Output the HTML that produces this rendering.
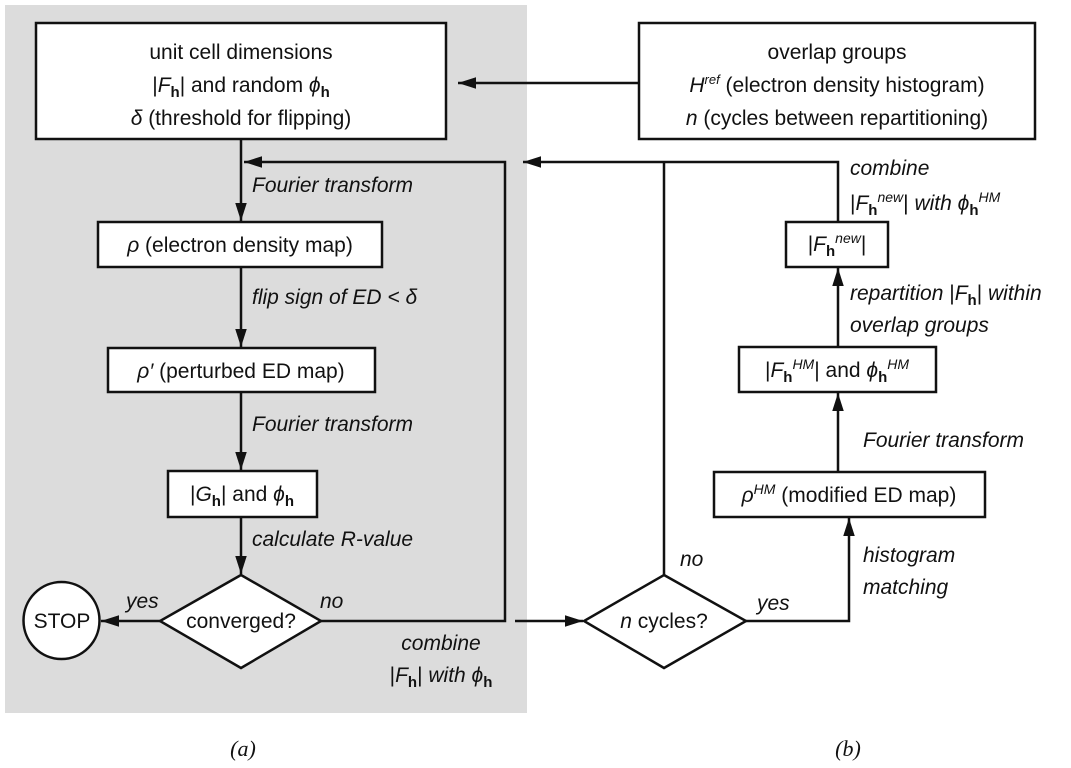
<!DOCTYPE html>
<html><head><meta charset="utf-8"><style>
body{margin:0;background:#fff}
svg{display:block}
text{font-family:"Liberation Sans",sans-serif;font-size:21px;fill:#111}
.i{font-style:italic}
.b{font-weight:bold}
</style></head><body>
<svg width="1071" height="768" viewBox="0 0 1071 768" xmlns="http://www.w3.org/2000/svg">
<defs>
<marker id="A" viewBox="0 0 10 10" refX="10" refY="5" markerWidth="18" markerHeight="18" markerUnits="userSpaceOnUse" orient="auto"><path d="M0,1.8L10,5L0,8.2z" fill="#111"/></marker></defs>
<rect x="5" y="5" width="522" height="708" fill="#dcdcdc"/>
<g stroke="#111" stroke-width="2.5" fill="#fff">
<rect x="36" y="23" width="410" height="116"/>
<rect x="639" y="23" width="396" height="116"/>
<rect x="98" y="222" width="284" height="45"/>
<rect x="108" y="348" width="267" height="44"/>
<rect x="168" y="471" width="149" height="46"/>
<polygon points="241,575 321,621 241,668 160,621"/>
<ellipse cx="61.5" cy="620.5" rx="38" ry="38.5"/>
<rect x="786" y="222" width="102" height="45"/>
<rect x="739" y="347" width="197" height="45"/>
<rect x="714" y="472" width="271" height="45"/>
<polygon points="664,575 746,621 664,668 584,621"/>
</g>
<g stroke="#111" stroke-width="2.5" fill="none">
<line x1="639" y1="83" x2="458" y2="83" marker-end="url(#A)"/>
<line x1="241" y1="139" x2="241" y2="221" marker-end="url(#A)"/>
<polyline points="321,621 505,621 505,162 244,162" marker-end="url(#A)"/>
<line x1="241" y1="267" x2="241" y2="347" marker-end="url(#A)"/>
<line x1="241" y1="392" x2="241" y2="470" marker-end="url(#A)"/>
<line x1="241" y1="517" x2="241" y2="574" marker-end="url(#A)"/>
<line x1="160" y1="621" x2="101" y2="621" marker-end="url(#A)"/>
<line x1="515" y1="621" x2="583" y2="621" marker-end="url(#A)"/>
<line x1="664" y1="575" x2="664" y2="162"/>
<polyline points="838,222 838,162 523,162" marker-end="url(#A)"/>
<line x1="838" y1="347" x2="838" y2="268" marker-end="url(#A)"/>
<line x1="838" y1="472" x2="838" y2="393" marker-end="url(#A)"/>
<polyline points="746,621 849,621 849,518" marker-end="url(#A)"/>
</g>
<g text-anchor="middle">
<text x="241" y="59">unit cell dimensions</text>
<text x="241" y="92">|<tspan class="i">F</tspan><tspan class="b" font-size="15" dy="5">h</tspan><tspan dy="-5">| and random </tspan><tspan class="i">ϕ</tspan><tspan class="b" font-size="15" dy="5">h</tspan></text>
<text x="241" y="125"><tspan class="i">δ</tspan> (threshold for flipping)</text>
<text x="837" y="59">overlap groups</text>
<text x="837" y="92"><tspan class="i">H</tspan><tspan class="i" font-size="13" dy="-8">ref</tspan><tspan dy="8"> (electron density histogram)</tspan></text>
<text x="837" y="125"><tspan class="i">n</tspan> (cycles between repartitioning)</text>
<text x="240" y="252"><tspan class="i">ρ</tspan> (electron density map)</text>
<text x="241" y="378"><tspan class="i">ρ′</tspan> (perturbed ED map)</text>
<text x="242" y="501">|<tspan class="i">G</tspan><tspan class="b" font-size="15" dy="5">h</tspan><tspan dy="-5">| and </tspan><tspan class="i">ϕ</tspan><tspan class="b" font-size="15" dy="5">h</tspan></text>
<text x="241" y="628">converged?</text>
<text x="62" y="628">STOP</text>
<text x="664" y="628"><tspan class="i">n</tspan> cycles?</text>
<text x="837" y="251">|<tspan class="i">F</tspan><tspan class="b" font-size="15" dy="5">h</tspan><tspan class="i" font-size="14" dy="-13">new</tspan><tspan dy="8">|</tspan></text>
<text x="837" y="377">|<tspan class="i">F</tspan><tspan class="b" font-size="15" dy="5">h</tspan><tspan class="i" font-size="14" dy="-13">HM</tspan><tspan dy="8">| and </tspan><tspan class="i">ϕ</tspan><tspan class="b" font-size="15" dy="5">h</tspan><tspan class="i" font-size="14" dy="-13">HM</tspan></text>
<text x="849" y="502"><tspan class="i">ρ</tspan><tspan class="i" font-size="14" dy="-8">HM</tspan><tspan dy="8"> (modified ED map)</tspan></text>
<text x="441" y="650" class="i">combine</text>
<text x="441" y="682" class="i"><tspan font-style="normal">|</tspan>F<tspan class="b" font-size="15" dy="5" font-style="normal">h</tspan><tspan dy="-5" font-style="normal">|</tspan> with ϕ<tspan class="b" font-size="15" dy="5" font-style="normal">h</tspan></text>
<text x="243" y="756" style="font-family:'Liberation Serif',serif;font-style:italic;font-size:22px">(a)</text>
<text x="848" y="756" style="font-family:'Liberation Serif',serif;font-style:italic;font-size:22px">(b)</text>
</g>
<g>
<text x="252" y="192" class="i">Fourier transform</text>
<text x="252" y="304" class="i">flip sign of ED &lt; δ</text>
<text x="252" y="431" class="i">Fourier transform</text>
<text x="252" y="546" class="i">calculate R-value</text>
<text x="126" y="608" class="i">yes</text>
<text x="320" y="608" class="i">no</text>
<text x="850" y="175" class="i">combine</text>
<text x="850" y="210" class="i"><tspan font-style="normal">|</tspan>F<tspan class="b" font-size="15" dy="5" font-style="normal">h</tspan><tspan font-size="14" dy="-13">new</tspan><tspan dy="8" font-style="normal">|</tspan> with ϕ<tspan class="b" font-size="15" dy="5" font-style="normal">h</tspan><tspan font-size="14" dy="-13">HM</tspan></text>
<text x="850" y="300" class="i">repartition <tspan font-style="normal">|</tspan>F<tspan class="b" font-size="15" dy="5" font-style="normal">h</tspan><tspan dy="-5" font-style="normal">|</tspan> within</text>
<text x="850" y="332" class="i">overlap groups</text>
<text x="863" y="447" class="i">Fourier transform</text>
<text x="863" y="562" class="i">histogram</text>
<text x="863" y="594" class="i">matching</text>
<text x="757" y="610" class="i">yes</text>
<text x="680" y="566" class="i">no</text>
</g>
</svg>
</body></html>
